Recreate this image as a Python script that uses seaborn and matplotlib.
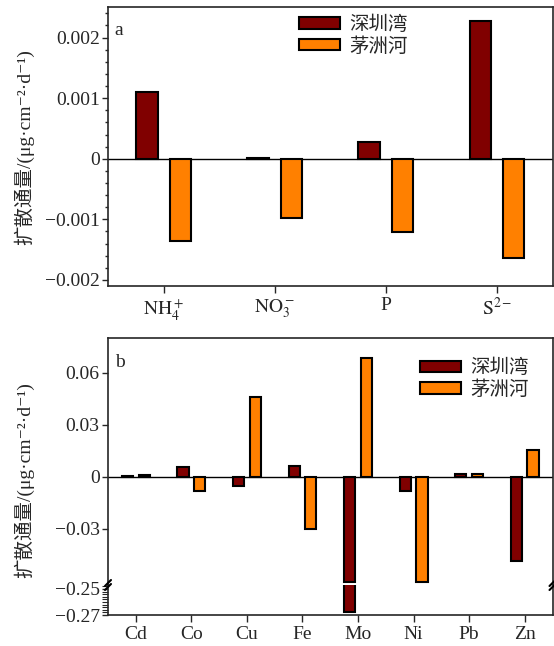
import numpy as np
import pandas as pd
import matplotlib
matplotlib.use("Agg")
import matplotlib.pyplot as plt
from matplotlib.patches import Patch
from matplotlib.ticker import MultipleLocator, FuncFormatter, FixedLocator
import seaborn as sns

# ---------------- data ----------------
sites = ["深圳湾", "茅洲河"]
cats_a = [r"$\mathrm{NH_4^+}$", r"$\mathrm{NO_3^-}$", "P", r"$\mathrm{S^{2-}}$"]
a_szw = [0.00111, 0.00001, 0.00027, 0.00228]
a_mzh = [-0.00135, -0.00098, -0.00121, -0.00163]

cats_b = ["Cd", "Co", "Cu", "Fe", "Mo", "Ni", "Pb", "Zn"]
b_szw = [0.0003, 0.0058, -0.0054, 0.0063, -0.268, -0.0081, 0.0016, -0.0485]
b_mzh = [0.0007, -0.0081, 0.0462, -0.0302, 0.0687, -0.061, 0.0018, 0.0154]

colors = ["#800000", "#FF8000"]
ylabel = "扩散通量/(μg·cm⁻²·d⁻¹)"

# ---------------- style ----------------
sns.set_style("ticks")
plt.rcParams["font.family"] = ["Liberation Serif", "DejaVu Serif", "Noto Sans CJK SC"]
plt.rcParams["mathtext.fontset"] = "stix"
plt.rcParams["axes.linewidth"] = 1.2
plt.rcParams["axes.unicode_minus"] = True
FS = 14
fam = ["Liberation Serif", "DejaVu Serif", "Noto Sans CJK SC"]

def fmt(v, pos):
    if abs(v) < 1e-12:
        return "0"
    s = "%g" % v
    return s.replace("-", "\u2212")

W, H = 554, 646
fig = plt.figure(figsize=(W / 100, H / 100), dpi=100)

def fx(px):
    return px / W

def fy(py):
    return 1 - py / H

L, R = 108, 552.5
# ---------------- panel a ----------------
axa = fig.add_axes([fx(L), fy(286), fx(R) - fx(L), fy(7.3) - fy(286)])
df_a = pd.DataFrame({
    "cat": cats_a * 2,
    "site": [sites[0]] * 4 + [sites[1]] * 4,
    "val": a_szw + a_mzh,
})
sns.barplot(data=df_a, x="cat", y="val", hue="site", palette=colors,
            width=0.6, gap=0.36, edgecolor="black", linewidth=1.5,
            errorbar=None, legend=False, ax=axa, saturation=1)
axa.axhline(0, color="black", lw=1.0, zorder=0.5)
axa.set_xlim(-0.5, 3.5)
axa.set_ylim(-0.0021, 0.0025)
axa.yaxis.set_major_locator(FixedLocator([-0.002, -0.001, 0, 0.001, 0.002]))
axa.yaxis.set_minor_locator(MultipleLocator(0.0002))
axa.yaxis.set_major_formatter(FuncFormatter(fmt))
axa.set_xlabel("")
axa.set_ylabel(ylabel, fontsize=FS, family=fam)
axa.yaxis.set_label_coords(-0.165, 0.5)
axa.tick_params(axis="y", which="major", direction="out", length=4, width=1.0,
                labelsize=FS, right=False, pad=2)
axa.tick_params(axis="y", which="minor", direction="out", length=2.5, width=1.0, left=True)
axa.tick_params(axis="x", which="major", direction="out", length=5, width=1.0,
                labelsize=FS, top=False, pad=3)
axa.text(0.014, 0.90, "a", transform=axa.transAxes, fontsize=FS, va="baseline", ha="left")
handles = [Patch(facecolor=c, edgecolor="black", linewidth=1.5) for c in colors]
axa.legend(handles, sites, loc="upper left", bbox_to_anchor=(0.43, 0.97),
           frameon=False, fontsize=FS, handlelength=2.1, handleheight=0.55,
           handletextpad=0.5, labelspacing=0.15, borderpad=0, borderaxespad=0,
           prop={"family": fam, "size": FS})

# ---------------- panel b (broken axis) ----------------
TOP_B, BRK, BOT_B = 338, 585, 615
axu = fig.add_axes([fx(L), fy(BRK), fx(R) - fx(L), fy(TOP_B) - fy(BRK)])
axl = fig.add_axes([fx(L), fy(BOT_B), fx(R) - fx(L), fy(BRK) - fy(BOT_B)], sharex=axu)

u_low, u_high = -0.0625, 0.08
l_low, l_high = -0.27, -0.247
b_szw_a = np.array(b_szw)
b_mzh_a = np.array(b_mzh)

df_u = pd.DataFrame({
    "cat": cats_b * 2,
    "site": [sites[0]] * 8 + [sites[1]] * 8,
    "val": np.concatenate([np.maximum(b_szw_a, -0.0605), np.maximum(b_mzh_a, -0.0605)]),
})
df_l = pd.DataFrame({
    "cat": cats_b * 2,
    "site": [sites[0]] * 8 + [sites[1]] * 8,
    "val": np.concatenate([np.where(b_szw_a < l_high, np.minimum(b_szw_a, -0.2492), 0.0),
                           np.where(b_mzh_a < l_high, np.minimum(b_mzh_a, -0.2492), 0.0)]),
})
for ax, df in ((axu, df_u), (axl, df_l)):
    sns.barplot(data=df, x="cat", y="val", hue="site", palette=colors,
                width=0.6, gap=0.33, edgecolor="black", linewidth=1.5,
                errorbar=None, legend=False, ax=ax, saturation=1)
    ax.set_xlim(-0.5, 7.5)
    ax.set_xlabel("")
    ax.set_ylabel("")

axu.axhline(0, color="black", lw=1.0, zorder=0.5)
axu.set_ylim(u_low, u_high)
axl.set_ylim(l_low, l_high)
axu.spines["bottom"].set_visible(False)
axl.spines["top"].set_visible(False)
axu.tick_params(axis="x", which="both", bottom=False, top=False, labelbottom=False)
axu.yaxis.set_major_locator(FixedLocator([-0.03, 0, 0.03, 0.06]))
axu.yaxis.set_major_formatter(FuncFormatter(fmt))
axu.tick_params(axis="y", which="major", direction="out", length=4, width=1.0,
                labelsize=FS, right=False, pad=2)
axl.yaxis.set_major_locator(FixedLocator([-0.27, -0.25]))
axl.yaxis.set_minor_locator(MultipleLocator(0.002))
axl.yaxis.set_major_formatter(FuncFormatter(fmt))
axl.tick_params(axis="y", which="major", direction="out", length=4, width=1.0,
                labelsize=FS, right=False, pad=2)
axl.tick_params(axis="y", which="minor", direction="out", length=4, width=0.8, left=True, right=False)
axl.tick_params(axis="x", which="major", direction="out", length=5, width=1.0,
                labelsize=FS, top=False, pad=3)

axu.set_ylabel(ylabel, fontsize=FS, family=fam)
axu.yaxis.set_label_coords(-0.165, (BRK - 480) / (BRK - TOP_B))
axu.text(0.016, 0.884, "b", transform=axu.transAxes, fontsize=FS, va="baseline", ha="left")
axu.legend(handles, sites, loc="upper left", bbox_to_anchor=(0.702, 0.915),
           frameon=False, fontsize=FS, handlelength=2.1, handleheight=0.55,
           handletextpad=0.5, labelspacing=0.15, borderpad=0, borderaxespad=0,
           prop={"family": fam, "size": FS})

# break marks on both spines
for xs in (L, R):
    for dy in (-2.0, 2.0):
        fig.add_artist(plt.Line2D([fx(xs - 3), fx(xs + 3)],
                                  [fy(BRK + 3 + dy), fy(BRK - 3 + dy)],
                                  transform=fig.transFigure, color="black", lw=1.5))

fig.savefig("out.png", dpi=100)
